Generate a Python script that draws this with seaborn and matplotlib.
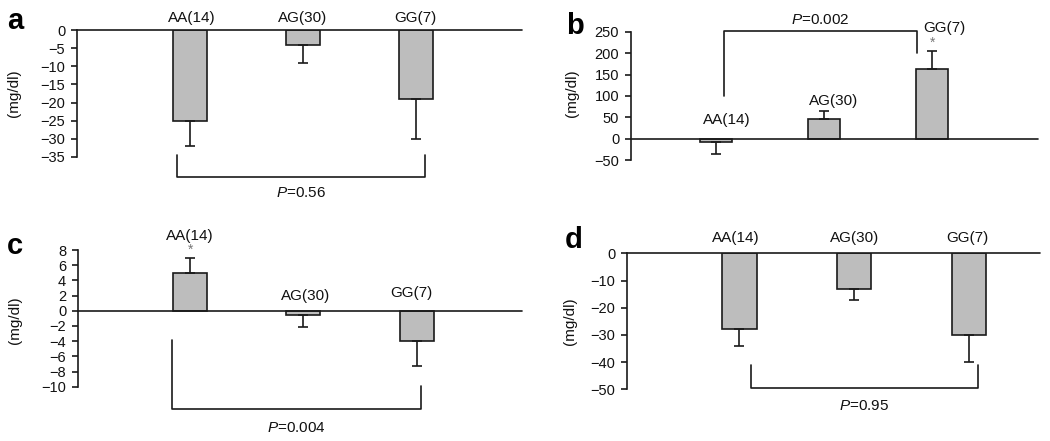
import numpy as np
import matplotlib
matplotlib.use("Agg")
import matplotlib.pyplot as plt
import seaborn as sns

# data
genotypes = ["AA(14)", "AG(30)", "GG(7)"]

means_a = [-25, -4, -19]
sd_a = [7, 5, 11]
stars_a = [False, False, False]
yticks_a = list(range(-35, 1, 5))
p_a = "0.56"

means_b = [-8, 47, 163]
sd_b = [29, 18, 42]
stars_b = [False, False, True]
yticks_b = list(range(-50, 251, 50))
p_b = "0.002"

means_c = [5.0, -0.6, -4.0]
sd_c = [2.0, 1.6, 3.3]
stars_c = [True, False, False]
yticks_c = list(range(-10, 9, 2))
p_c = "0.004"

means_d = [-28, -13, -30]
sd_d = [6, 4, 10]
stars_d = [False, False, False]
yticks_d = list(range(-50, 1, 10))
p_d = "0.95"

W, H = 1050, 441
BAR_COLOR = "#bdbdbd"
LINE_COLOR = "#1a1a1a"
TEXT_COLOR = "#111111"
BAR_W = 0.30

sns.set_style("ticks")
plt.rcParams["font.family"] = ["Liberation Sans", "DejaVu Sans"]
plt.rcParams["text.color"] = TEXT_COLOR
plt.rcParams["axes.labelcolor"] = TEXT_COLOR
plt.rcParams["mathtext.fontset"] = "custom"
plt.rcParams["mathtext.it"] = "Liberation Sans:italic"
plt.rcParams["mathtext.rm"] = "Liberation Sans"


def px_rect(left, top, right, bottom):
    """pixel box -> figure fraction rect"""
    return [left / W, 1 - bottom / H, (right - left) / W, (bottom - top) / H]


# layout: axes box in px, xlim, letter pos (px), label offsets (dx, dy px from anchor),
# bracket (x0, x1, y0, y1, ybar, p_y)
panels = [
    dict(letter="a", means=means_a, sd=sd_a, stars=stars_a, yticks=yticks_a, p=p_a,
         box=(77, 30, 522, 157), xlim=(-1.0, 2.94), letter_xy=(7, 29), ylab=(-0.142, 0.5),
         offs=[(2, 12), (0, 12), (0, 12)], bracket=(-0.115, 2.08, -34.4, -34.4, -40.5, -44.9)),
    dict(letter="b", means=means_b, sd=sd_b, stars=stars_b, yticks=yticks_b, p=p_b,
         box=(631, 32, 1038, 160), xlim=(-0.79, 2.98), letter_xy=(566, 34), ylab=(-0.145, 0.52),
         offs=[(10, 19), (9, 10), (12, 23)], bracket=(0.07, 1.86, 100, 200, 253, 277)),
    dict(letter="c", means=means_c, sd=sd_c, stars=stars_c, yticks=yticks_c, p=p_c,
         box=(78, 250, 522, 386.7), xlim=(-0.99, 2.93), letter_xy=(7, 254), ylab=(-0.142, 0.49),
         offs=[(0, 22), (2, 15), (-5, 18)], bracket=(-0.16, 2.035, -3.9, -9.9, -13, -15.5)),
    dict(letter="d", means=means_d, sd=sd_d, stars=stars_d, yticks=yticks_d, p=p_d,
         box=(627, 253.3, 1040, 389.3), xlim=(-0.98, 2.62), letter_xy=(565, 248), ylab=(-0.138, 0.5),
         offs=[(-4, 15), (0, 15), (-1, 15)], bracket=(0.10, 2.08, -41, -41, -49.6, -56)),
]

fig = plt.figure(figsize=(W / 100, H / 100), dpi=100)

for pnl in panels:
    ax = fig.add_axes(px_rect(*pnl["box"]))
    sns.barplot(x=genotypes, y=pnl["means"], width=BAR_W, color=BAR_COLOR, saturation=1,
                edgecolor=LINE_COLOR, linewidth=1.2, errorbar=None, ax=ax)

    # one-sided error bars, away from zero
    means = np.array(pnl["means"], dtype=float)
    sd = np.array(pnl["sd"], dtype=float)
    lower = np.where(means < 0, sd, 0)
    upper = np.where(means >= 0, sd, 0)
    xs = np.arange(len(means))
    ax.errorbar(xs, means, yerr=[lower, upper], fmt="none", ecolor=LINE_COLOR,
                elinewidth=1.2, capsize=3.6, capthick=1.2, zorder=3)

    ax.axhline(0, color=LINE_COLOR, lw=1.2, clip_on=False, zorder=4)

    yt = pnl["yticks"]
    ax.set_ylim(yt[0], yt[-1])
    ax.set_yticks(yt)
    ax.set_xlim(*pnl["xlim"])
    ax.set_xticks([])
    ax.set_xlabel("")
    for s in ["top", "right", "bottom"]:
        ax.spines[s].set_visible(False)
    ax.spines["left"].set_linewidth(1.2)
    ax.spines["left"].set_color(LINE_COLOR)
    ax.tick_params(axis="y", labelsize=10.5, length=4.5, width=1.2, pad=4,
                   color=LINE_COLOR, labelcolor=TEXT_COLOR)
    ax.set_ylabel("(mg/dl)", fontsize=11, va="center")
    ax.yaxis.set_label_coords(*pnl["ylab"])

    # genotype labels above bars
    for i, (m, s, (dx, dy), star) in enumerate(zip(means, sd, pnl["offs"], pnl["stars"])):
        anchor = m + s if m > 0 else 0
        ax.annotate(genotypes[i], (i, anchor), xytext=(dx * 0.72, dy * 0.72),
                    textcoords="offset points", ha="center", va="center", fontsize=11,
                    annotation_clip=False)
        if star:
            ax.annotate("*", (i, anchor), xytext=(0, 8 * 0.72), textcoords="offset points",
                        ha="center", va="center", fontsize=10, color="#777777",
                        annotation_clip=False)

    # significance bracket
    x0, x1, y0, y1, yb, py = pnl["bracket"]
    ax.plot([x0, x0, x1, x1], [y0, yb, yb, y1], color=LINE_COLOR, lw=1.2, clip_on=False)
    ax.text((x0 + x1) / 2, py, "$P$=" + pnl["p"], ha="center", va="center", fontsize=11,
            clip_on=False)

    lx, ly = pnl["letter_xy"]
    fig.text(lx / W, 1 - ly / H, pnl["letter"], fontsize=21, fontweight="bold",
             ha="left", va="baseline", color="black")

fig.savefig("out.png", dpi=100)
plt.close()
